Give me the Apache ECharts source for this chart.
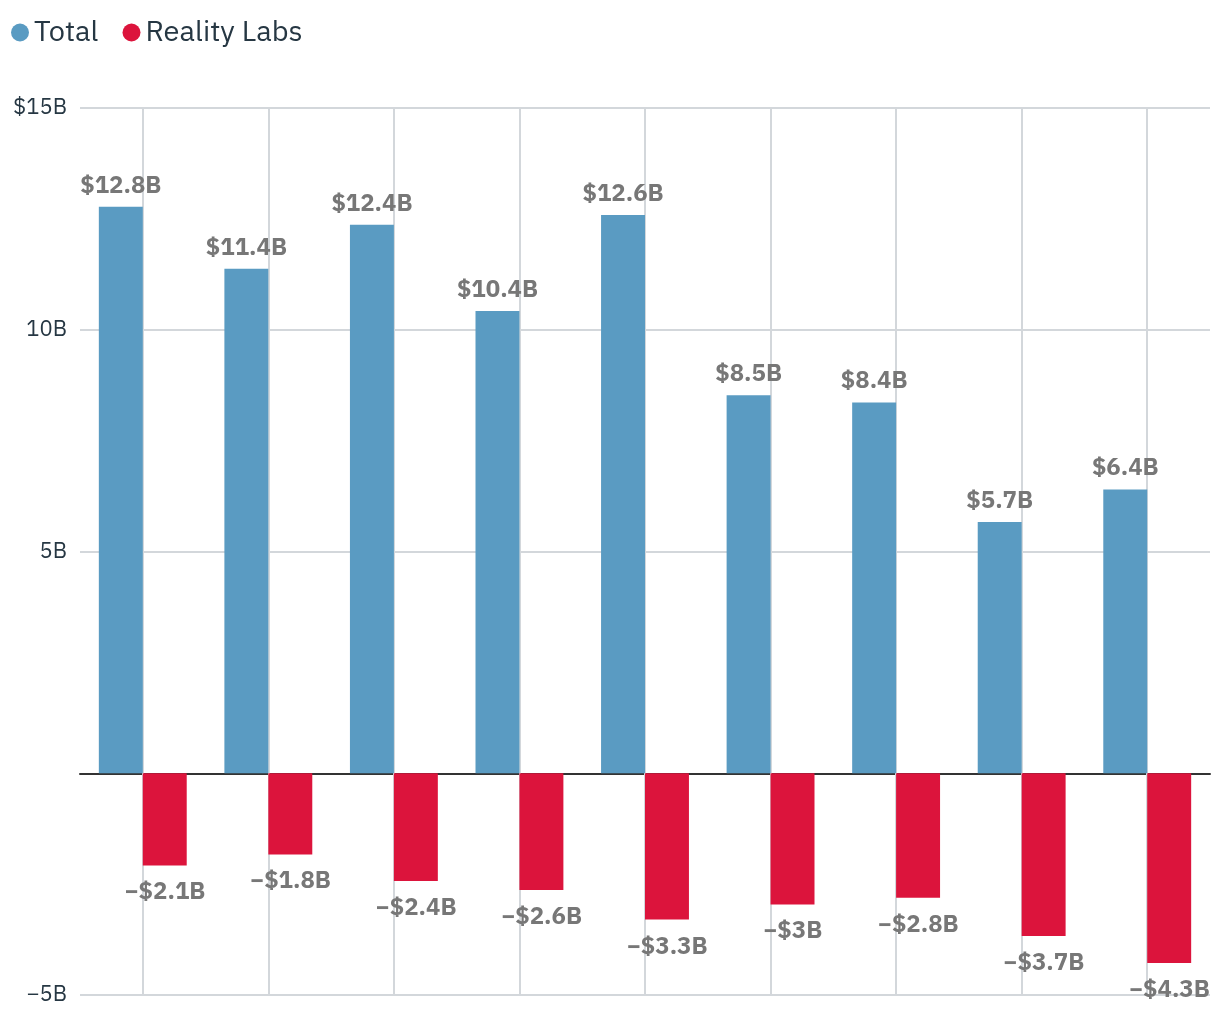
<!DOCTYPE html>
<html>
<head>
<meta charset="utf-8">
<script src="https://cdn.jsdelivr.net/npm/echarts@6/dist/echarts.min.js"></script>
<style>html,body{margin:0;padding:0;background:#fff}#c{width:1220px;height:1020px}</style>
</head>
<body>
<div id="c"></div>
<script>
const categories = ['Q4 2020','Q1 2021','Q2 2021','Q3 2021','Q4 2021','Q1 2022','Q2 2022','Q3 2022','Q4 2022'];
const totalValues = [12.775, 11.378, 12.367, 10.423, 12.585, 8.524, 8.358, 5.664, 6.399];
const realityLabsValues = [-2.08, -1.83, -2.43, -2.63, -3.30, -2.96, -2.81, -3.67, -4.28];
const yTicks = {15: '$15B', 10: '10B', 5: '5B', 0: '', '-5': '\u22125B'};

function fmt(v) {
  let s = Math.abs(v).toFixed(1).replace(/\.0$/, '');
  return (v < 0 ? '\u2212' : '') + '$' + s + 'B';
}
const font = '"IBM Plex Sans","Noto Sans",sans-serif';
const chart = echarts.init(document.getElementById('c'));
chart.setOption({
  animation: false,
  legend: {
    data: ['Total', 'Reality Labs'],
    left: 6, top: 13,
    icon: 'circle', itemWidth: 18, itemHeight: 18, itemGap: 24,
    textStyle: {fontFamily: font, fontSize: 29, color: '#263743'}
  },
  grid: {left: 80, right: 10, top: 108, bottom: 25},
  xAxis: {
    type: 'category', data: categories,
    axisLine: {onZero: true, lineStyle: {color: '#333', width: 2}},
    axisTick: {show: false}, axisLabel: {show: false},
    splitLine: {show: false}
  },
  yAxis: {
    type: 'value', min: -5, max: 15, interval: 5,
    axisLabel: {formatter: v => yTicks[v] !== undefined ? yTicks[v] : String(v), fontFamily: font, fontSize: 22, color: '#263743', margin: 13},
    splitLine: {lineStyle: {color: '#d3d7db', width: 2}},
    axisLine: {show: false}, axisTick: {show: false}
  },
  series: [
    {
      name: 'grid', type: 'line', data: [], silent: true, z: 1,
      markLine: {
        silent: true, symbol: 'none', z: 1,
        label: {show: false},
        lineStyle: {color: '#d3d7db', width: 2, type: 'solid'},
        data: categories.map(c => ({xAxis: c}))
      }
    },
    {
      name: 'Total', type: 'bar', data: totalValues, z: 10,
      itemStyle: {color: '#5a9bc2'},
      barGap: '0%', barCategoryGap: '30%',
      label: {show: true, position: 'top', distance: 9, formatter: p => fmt(p.value), fontFamily: font, fontWeight: 'bold', fontSize: 24, color: '#777'}
    },
    {
      name: 'Reality Labs', type: 'bar', data: realityLabsValues, z: 10,
      itemStyle: {color: '#dc143c'},
      label: {show: true, position: 'bottom', distance: 15, formatter: p => fmt(p.value), fontFamily: font, fontWeight: 'bold', fontSize: 24, color: '#777'}
    }
  ]
});
</script>
</body>
</html>
